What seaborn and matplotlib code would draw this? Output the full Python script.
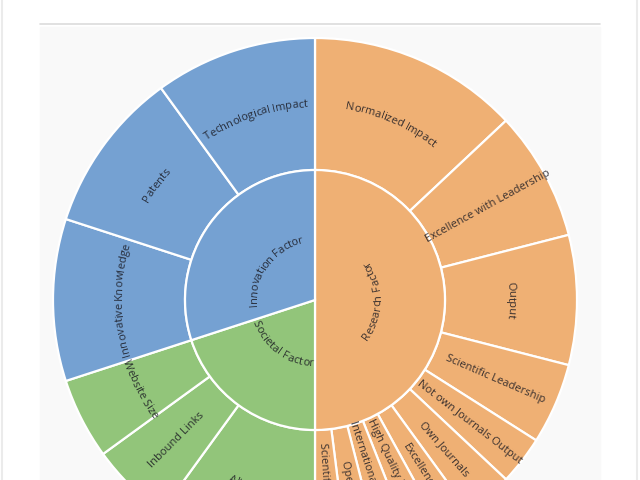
import numpy as np
import matplotlib.pyplot as plt
import seaborn as sns
from matplotlib.patches import Rectangle
from matplotlib.font_manager import FontProperties, findfont
from matplotlib.ft2font import FT2Font

sns.set_theme(style="white")
plt.rcParams['font.family'] = ['Open Sans', 'DejaVu Sans']

# SIR ranking weights (%)
factors = ["Research Factor", "Societal Factor", "Innovation Factor"]
factor_weights = [50, 20, 30]
factor_colors = ["#efb074", "#92c57a", "#75a1d2"]

indicators = ["Normalized Impact", "Excellence with Leadership", "Output",
              "Scientific Leadership", "Not own Journals Output", "Own Journals",
              "Excellence", "High Quality Publications", "International Collaboration",
              "Open Access", "Scientific Talent Pool",
              "Altmetrics", "Inbound Links", "Website Size",
              "Innovative Knowledge", "Patents", "Technological Impact"]
indicator_weights = [13, 8, 8, 5, 3, 3, 2, 2, 2, 2, 2,
                     10, 5, 5,
                     10, 10, 10]
indicator_parent = [0] * 11 + [1] * 3 + [2] * 3

# how each label sits: 'cw' curved (tops outward), 'ccw' curved (tops inward), 'rad' radial
factor_modes = ["ccw", "ccw", "cw"]
indicator_modes = ["cw", "rad", "cw", "rad", "rad", "rad", "rad", "rad", "rad", "rad", "rad",
                   "ccw", "rad", "ccw", "cw", "cw", "cw"]

cx, cy = 315, 180
r_out, r_in = 262, 130
txt_kw = dict(color="#1a1a22", alpha=0.85, fontsize=8, ha="center",
              va="center_baseline", rotation_mode="anchor")

fig = plt.figure(figsize=(6.4, 4.8), dpi=100)
ax = fig.add_axes([0, 0, 1, 1])

# page / panel background
ax.add_patch(Rectangle((40, 0), 560, 453, color="#f9f9f9", zorder=0))
ax.plot([40, 600], [456, 456], color="#dcdcdc", lw=1.2, zorder=0)
ax.plot([2, 2], [0, 480], color="#ebebeb", lw=1.5, zorder=0)
ax.plot([637, 637], [0, 480], color="#ebebeb", lw=1.5, zorder=0)

ax.pie(indicator_weights, radius=r_out, center=(cx, cy), startangle=90, counterclock=False,
       colors=[factor_colors[p] for p in indicator_parent],
       wedgeprops=dict(width=r_out - r_in, edgecolor="white", linewidth=1.6))
ax.pie(factor_weights, radius=r_in, center=(cx, cy), startangle=90, counterclock=False,
       colors=factor_colors, wedgeprops=dict(edgecolor="white", linewidth=1.6))

font = FT2Font(findfont(FontProperties(family="Open Sans")))
font.set_size(8, 100)


def advance(c):
    return font.load_char(ord(c)).linearHoriAdvance / 65536


def curved(s, theta, r, mode):
    w = np.array([advance(c) for c in s])
    pos = np.cumsum(w) - w / 2 - w.sum() / 2
    for c, p in zip(s, pos):
        if mode == "cw":
            th = theta - np.degrees(p / r)
            rot = th - 90
        else:
            th = theta + np.degrees(p / r)
            rot = th + 90
        ax.text(cx + r * np.cos(np.radians(th)), cy + r * np.sin(np.radians(th)), c,
                rotation=rot, **txt_kw)


def label(s, theta, r, mode):
    if mode == "rad":
        rot = theta if np.cos(np.radians(theta)) >= 0 else theta + 180
        ax.text(cx + r * np.cos(np.radians(theta)), cy + r * np.sin(np.radians(theta)), s,
                rotation=rot, **txt_kw)
    else:
        curved(s, theta, r, mode)


def mid_angles(weights):
    w = np.array(weights, dtype=float)
    return 90 - 360 * (np.cumsum(w) - w / 2) / w.sum()


for s, th, m in zip(factors, mid_angles(factor_weights), factor_modes):
    label(s, th, 62, m)
for s, th, m in zip(indicators, mid_angles(indicator_weights), indicator_modes):
    label(s, th, 197, m)

ax.set_xlim(0, 640)
ax.set_ylim(0, 480)
ax.set_aspect("auto")
ax.axis("off")

fig.savefig("out.png", dpi=100)
